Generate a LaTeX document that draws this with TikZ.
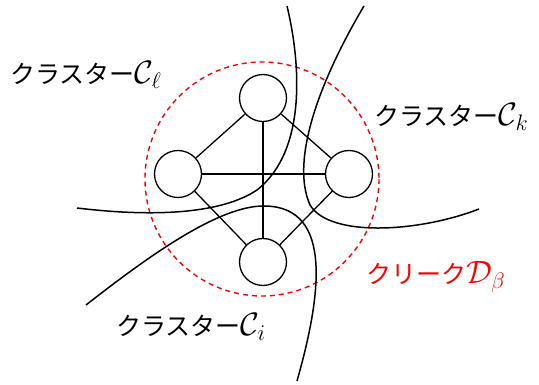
\documentclass[tikz,border=0pt]{standalone}
\usepackage{fontspec}
\usepackage{graphicx}
\newfontfamily\jpfont{Noto Sans CJK JP}
\newcommand{\mymathlab}[1]{\scalebox{1.3}{$#1$}}
\begin{document}
\begin{tikzpicture}[x=1pt,y=-1pt,
  vert/.style={circle,draw,line width=1.3pt,minimum size=47pt,inner sep=0pt},
  edge/.style={line width=1.3pt},
  bound/.style={line width=1.5pt},
  clique/.style={draw=red,dashed,line width=1.4pt,dash pattern=on 5pt off 4pt},
  lab/.style={anchor=west,inner sep=0pt,font=\fontsize{25}{30}\selectfont\jpfont}]
\useasboundingbox (0,0) rectangle (539,385);
\draw[clique] (262,179) circle (117);
\node[vert] (t) at (263,98) {};
\node[vert] (l) at (178,174) {};
\node[vert] (r) at (349,174) {};
\node[vert] (b) at (263,262) {};
\draw[edge] (t) -- (l);
\draw[edge] (t) -- (r);
\draw[edge] (t) -- (b);
\draw[edge] (l) -- (r);
\draw[edge] (l) -- (b);
\draw[edge] (r) -- (b);
\coordinate (a1) at (287,6);
\coordinate (a2) at (77,208);
\coordinate (b1) at (364,6);
\coordinate (b2) at (479,209);
\coordinate (c1) at (86,305);
\coordinate (c2) at (297,381);
\draw[bound] (a1) .. controls (300,60) and (308,150) .. (257,190) .. controls (215,218) and (135,215) .. (a2);
\draw[bound] (b1) .. controls (320,80) and (290,160) .. (310,205) .. controls (330,238) and (420,232) .. (b2);
\draw[bound] (c1) .. controls (150,255) and (220,205) .. (265,206) .. controls (335,207) and (320,300) .. (c2);
\node[lab] (ll) at (10,75) {クラスター\mymathlab{\mathcal{C}_\ell}};
\node[lab] (lk) at (374,117) {クラスター\mymathlab{\mathcal{C}_k}};
\node[lab] (li) at (116,327) {クラスター\mymathlab{\mathcal{C}_i}};
\node[lab,text=red] (ld) at (366,277) {クリーク\mymathlab{\mathcal{D}_\beta}};
\end{tikzpicture}
\end{document}
